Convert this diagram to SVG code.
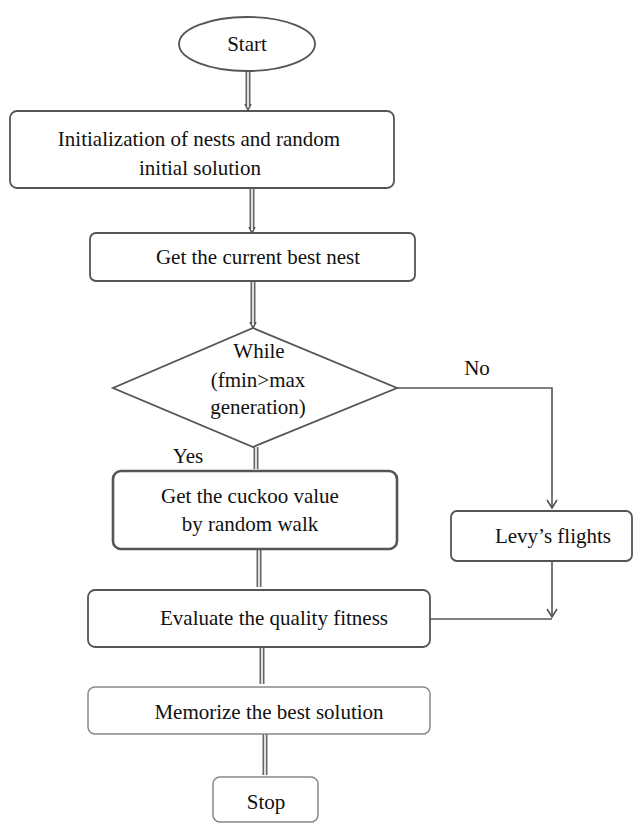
<svg xmlns="http://www.w3.org/2000/svg" width="642" height="829" viewBox="0 0 642 829">
<defs>
<style>
.box{fill:#fff;stroke:#555;stroke-width:1.8}
.bold{stroke-width:2.6}
.light{stroke:#888;stroke-width:1.5}
.t{font-family:"Liberation Serif","Times New Roman","DejaVu Serif",serif;font-size:21px;fill:#111;text-anchor:middle}
.outer{stroke:#666;stroke-width:5;fill:none}
.inner{stroke:#fff;stroke-width:1.6;fill:none}
.line{stroke:#555;stroke-width:1.6;fill:none}
</style>
<marker id="v" markerWidth="12" markerHeight="12" refX="10" refY="6" orient="auto" markerUnits="userSpaceOnUse" viewBox="0 0 12 12">
<path d="M2,1 L10,6 L2,11" fill="none" stroke="#555" stroke-width="1.6"/>
</marker>
</defs>
<rect width="642" height="829" fill="#fff"/>
<g id="connectors">
<path class="outer" d="M248,71 V106"/><path class="inner" d="M248,71 V106"/>
<path class="line" d="M245,104 L248,110 L251,104"/>
<path class="outer" d="M252,188 V229"/><path class="inner" d="M252,188 V229"/>
<path class="line" d="M249,227 L252,233 L255,227"/>
<path class="outer" d="M253,281 V324"/><path class="inner" d="M253,281 V324"/>
<path class="line" d="M250,322 L253,328 L256,322"/>
<path class="outer" d="M256,447 V469"/><path class="inner" d="M256,447 V469"/>
<path class="outer" d="M259,549 V587"/><path class="inner" d="M259,549 V587"/>
<path class="outer" d="M262,647 V684"/><path class="inner" d="M262,647 V684"/>
<path class="outer" d="M265,734 V775"/><path class="inner" d="M265,734 V775"/>
<path class="line" d="M397,388 H552 V508" marker-end="url(#v)"/>
<path class="line" d="M552,561 V617" marker-end="url(#v)"/>
<path class="line" d="M430,619 H552"/>
</g>
<g id="start">
<ellipse cx="247" cy="44" rx="68" ry="27" class="box"/>
<text class="t" x="247" y="51">Start</text>
</g>
<g id="init">
<rect x="10" y="111" width="384" height="77" rx="7" class="box"/>
<text class="t" x="199" y="146">Initialization of nests and random</text>
<text class="t" x="200" y="175">initial solution</text>
</g>
<g id="best">
<rect x="90" y="233" width="325" height="48" rx="6" class="box"/>
<text class="t" x="258" y="264">Get the current best nest</text>
</g>
<g id="while">
<polygon points="253,328 397,388 253,447 113,388" class="box"/>
<text class="t" x="259" y="358">While</text>
<text class="t" x="258" y="387">(fmin&gt;max</text>
<text class="t" x="258" y="414">generation)</text>
</g>
<g id="labels">
<text class="t" x="188" y="463">Yes</text>
<text class="t" x="477" y="375">No</text>
</g>
<g id="cuckoo">
<rect x="113" y="471" width="284" height="78" rx="8" class="box bold"/>
<text class="t" x="250" y="503">Get the cuckoo value</text>
<text class="t" x="250" y="531">by random walk</text>
</g>
<g id="levy">
<rect x="451" y="511" width="181" height="50" rx="6" class="box"/>
<text class="t" x="553" y="543">Levy’s flights</text>
</g>
<g id="evaluate">
<rect x="88" y="590" width="342" height="57" rx="7" class="box"/>
<text class="t" x="274" y="625">Evaluate the quality fitness</text>
</g>
<g id="memorize">
<rect x="88" y="687" width="342" height="47" rx="7" class="box light"/>
<text class="t" x="269" y="719">Memorize the best solution</text>
</g>
<g id="stop">
<rect x="213" y="777" width="105" height="45" rx="7" class="box light"/>
<text class="t" x="266" y="809">Stop</text>
</g>
</svg>
